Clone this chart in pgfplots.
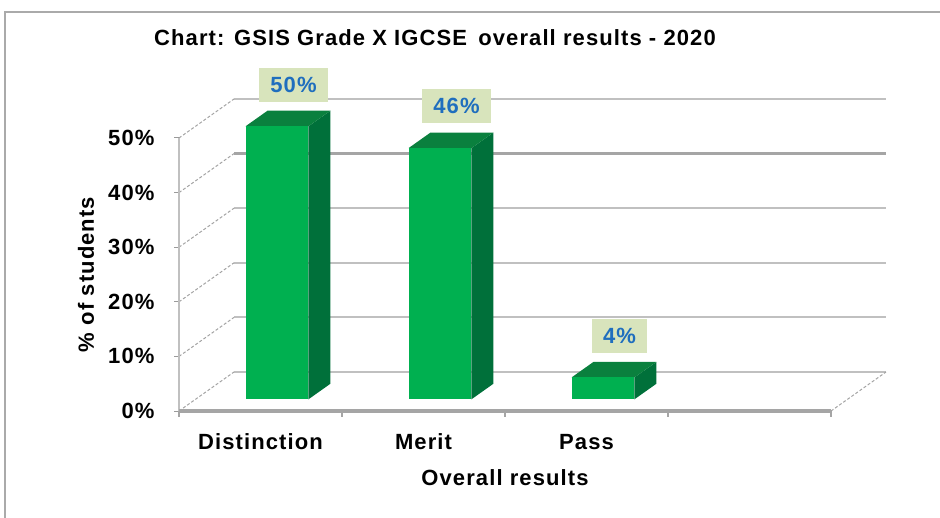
\documentclass[border=0pt]{standalone}
\usepackage{pgfplots}
\pgfplotsset{compat=1.18}
\usepackage{fontspec}
\setmainfont{Liberation Sans}[LetterSpace=5]
\definecolor{barfront}{RGB}{0,176,80}
\definecolor{barside}{RGB}{0,112,58}
\definecolor{bartop}{RGB}{10,128,62}
\definecolor{gridc}{RGB}{192,192,192}
\definecolor{gridd}{RGB}{165,165,165}
\definecolor{lblfill}{RGB}{216,228,188}
\definecolor{lbltext}{RGB}{31,110,190}
\definecolor{framec}{RGB}{170,170,170}
\begin{document}
\begin{tikzpicture}[font=\fontsize{22}{26}\selectfont\bfseries]
\path[use as bounding box] (0,0) rectangle (940pt,517pt);
\draw[framec, line width=1.5pt] (5pt,-10pt) -- (5pt,505pt) -- (950pt,505pt);
\node at (435pt,479pt) {Chart: GSIS Grade X IGCSE\hspace{4pt} overall results - 2020};
\begin{axis}[
  at={(179pt,106pt)}, anchor=origin,
  x={(163pt,0pt)}, y={(55pt,39pt)}, z={(0pt,5.46pt)},
  xmin=0, xmax=4, ymin=0, ymax=1, zmin=0, zmax=50,
  hide axis, clip=false,
]
% back wall grid
\pgfplotsinvokeforeach{0,10,20,30,50}{
  \addplot3[gridc, line width=2pt] coordinates {(0,1,#1) (4,1,#1)};
}
\addplot3[gridd, line width=3.5pt] coordinates {(0,1,40) (4,1,40)};
% left wall dashed lines
\pgfplotsinvokeforeach{0,10,20,30,40,50}{
  \addplot3[gridc!85!black, line width=1pt, dash pattern=on 3pt off 2pt] coordinates {(0,0,#1) (0,1,#1)};
  \addplot3[gridc!80!black, line width=1pt] coordinates {(-0.03,0,#1) (0,0,#1)};
  \node[anchor=east] at ([xshift=-21pt]axis cs:0,0,#1) {#1\%};
}
% right floor edge
\addplot3[gridc!85!black, line width=1pt, dash pattern=on 3pt off 2pt] coordinates {(4,0,0) (4,1,0)};
% front left axis
\addplot3[gridc, line width=2pt] coordinates {(0,0,0) (0,0,50)};
% front floor
\addplot3[gridd, line width=3.5pt] coordinates {(0,0,0) (4,0,0)};
\pgfplotsinvokeforeach{0,1,2,3,4}{
  \addplot3[gridd, line width=1.2pt] coordinates {(#1,0,0) (#1,0,-1.1)};
}
% bar: Distinction 50
\addplot3[fill=barside, draw=none] coordinates {(0.693,0.3,0) (0.693,0.7,0) (0.693,0.7,50) (0.693,0.3,50)};
\addplot3[fill=bartop, draw=none] coordinates {(0.307,0.3,50) (0.693,0.3,50) (0.693,0.7,50) (0.307,0.7,50)};
\addplot3[fill=barfront, draw=none] coordinates {(0.307,0.3,0) (0.693,0.3,0) (0.693,0.3,50) (0.307,0.3,50)};
% bar: Merit 46
\addplot3[fill=barside, draw=none] coordinates {(1.693,0.3,0) (1.693,0.7,0) (1.693,0.7,46) (1.693,0.3,46)};
\addplot3[fill=bartop, draw=none] coordinates {(1.307,0.3,46) (1.693,0.3,46) (1.693,0.7,46) (1.307,0.7,46)};
\addplot3[fill=barfront, draw=none] coordinates {(1.307,0.3,0) (1.693,0.3,0) (1.693,0.3,46) (1.307,0.3,46)};
% bar: Pass 4
\addplot3[fill=barside, draw=none] coordinates {(2.693,0.3,0) (2.693,0.7,0) (2.693,0.7,4) (2.693,0.3,4)};
\addplot3[fill=bartop, draw=none] coordinates {(2.307,0.3,4) (2.693,0.3,4) (2.693,0.7,4) (2.307,0.7,4)};
\addplot3[fill=barfront, draw=none] coordinates {(2.307,0.3,0) (2.693,0.3,0) (2.693,0.3,4) (2.307,0.3,4)};
% data labels
\node[fill=lblfill, text=lbltext, inner xsep=11pt, minimum height=34pt, anchor=south] at ([yshift=12pt]axis cs:0.5,0.6,50) {50\%};
\node[fill=lblfill, text=lbltext, inner xsep=11pt, minimum height=34pt, anchor=south] at ([yshift=13pt]axis cs:1.5,0.6,46) {46\%};
\node[fill=lblfill, text=lbltext, inner xsep=11pt, minimum height=34pt, anchor=south] at ([yshift=13pt]axis cs:2.5,0.6,4) {4\%};
% category labels
\node at ([yshift=-31pt]axis cs:0.5,0,0) {Distinction};
\node at ([yshift=-31pt]axis cs:1.5,0,0) {Merit};
\node at ([yshift=-31pt]axis cs:2.5,0,0) {Pass};
% axis titles
\node at ([yshift=-67pt]axis cs:2,0,0) {Overall results};
\node[rotate=90] at ([xshift=-93pt]axis cs:0,0,25) {\% of students};
\end{axis}
\end{tikzpicture}
\end{document}
